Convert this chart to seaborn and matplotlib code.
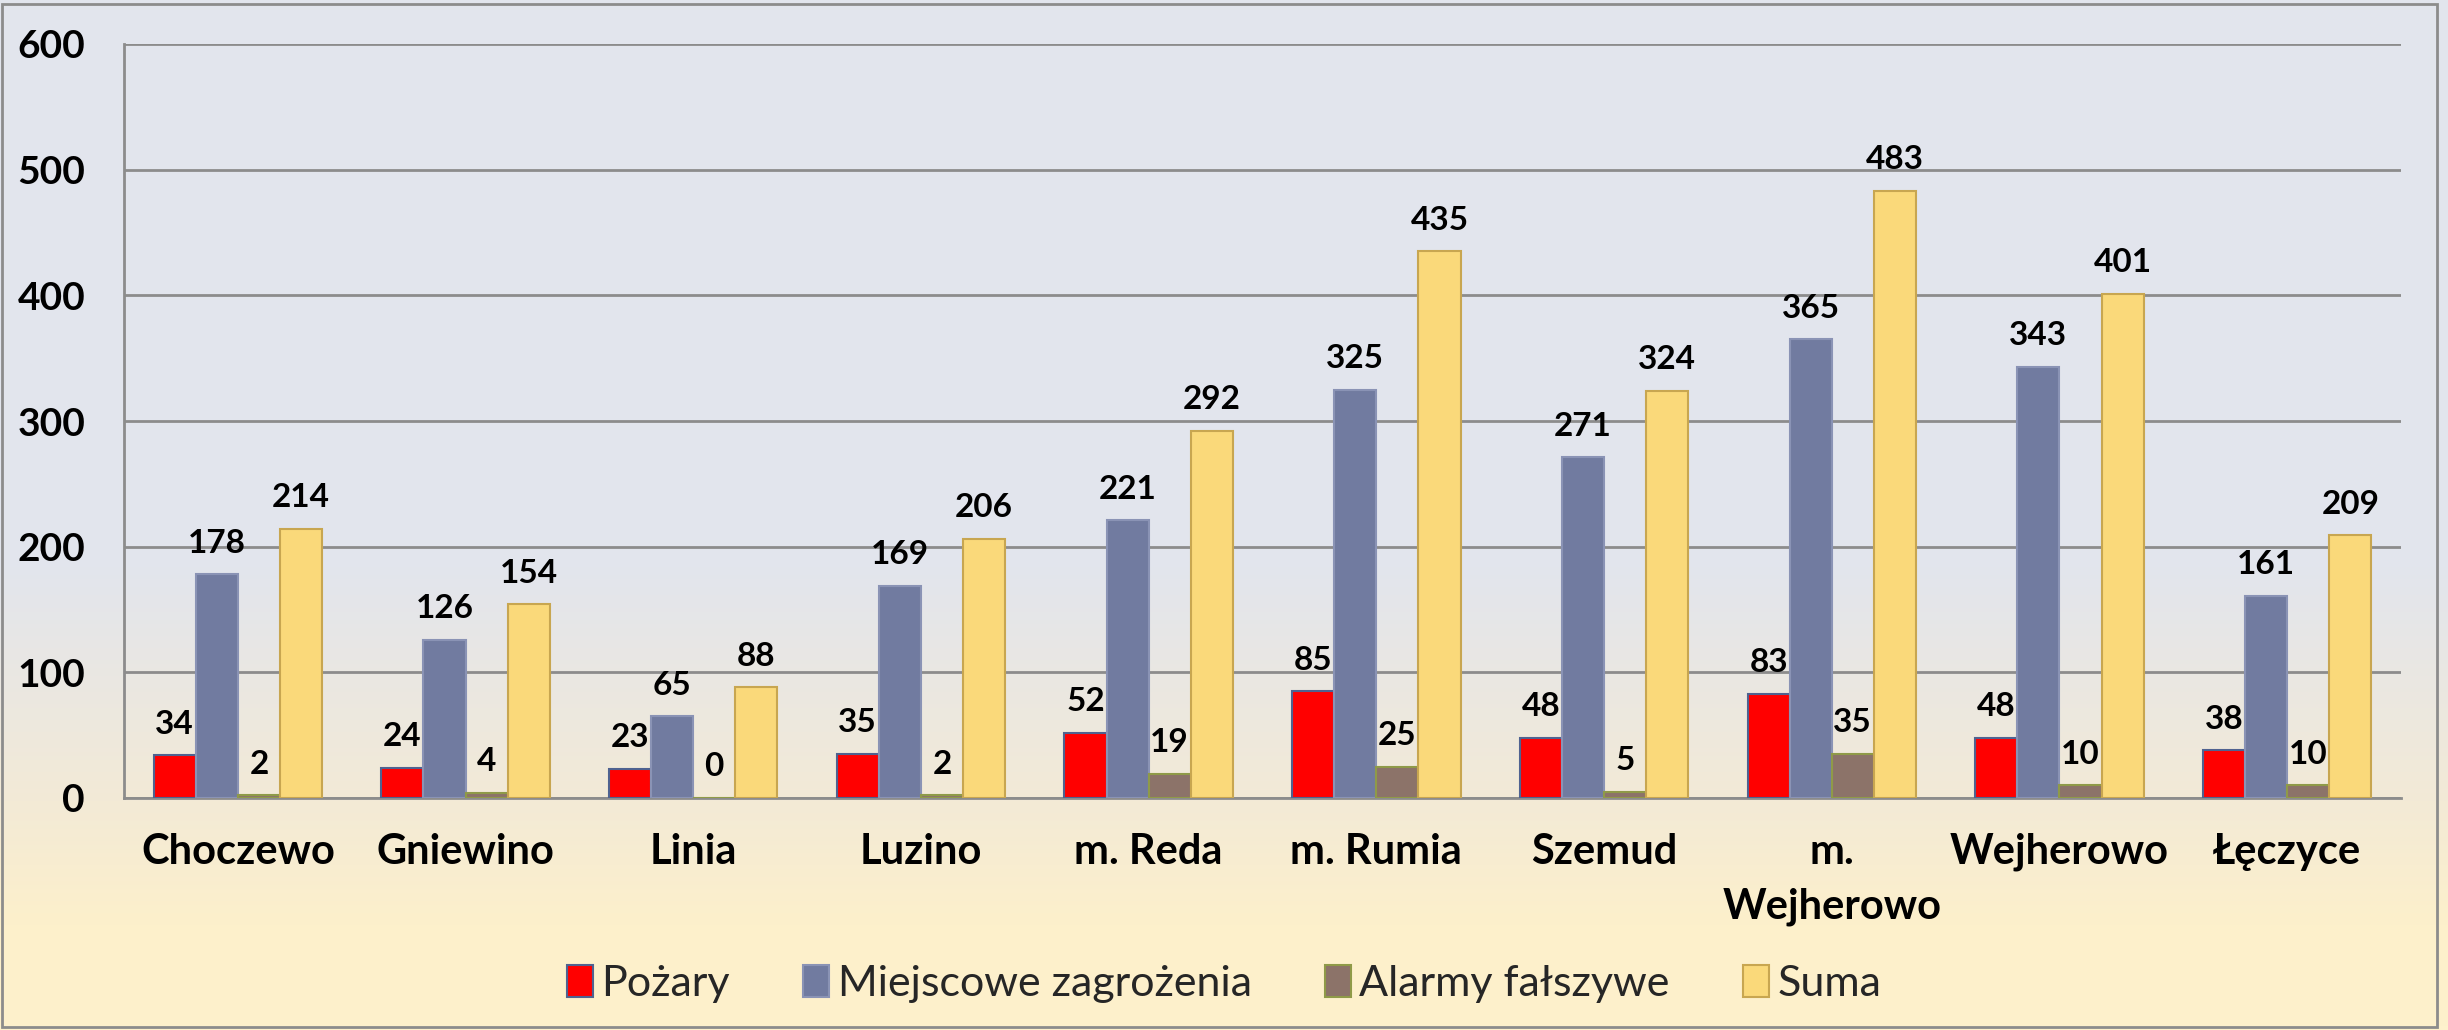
import numpy as np
import pandas as pd
import seaborn as sns
import matplotlib.pyplot as plt
from matplotlib.patches import Patch, Rectangle
from matplotlib.colors import LinearSegmentedColormap

gminy = ['Choczewo', 'Gniewino', 'Linia', 'Luzino', 'm. Reda', 'm. Rumia',
         'Szemud', 'm. Wejherowo', 'Wejherowo', 'Łęczyce']
etykiety = ['Choczewo', 'Gniewino', 'Linia', 'Luzino', 'm. Reda', 'm. Rumia',
            'Szemud', 'm.\nWejherowo', 'Wejherowo', 'Łęczyce']
serie = ['Pożary', 'Miejscowe zagrożenia', 'Alarmy fałszywe', 'Suma']
pozary = [34, 24, 23, 35, 52, 85, 48, 83, 48, 38]
miejscowe = [178, 126, 65, 169, 221, 325, 271, 365, 343, 161]
alarmy = [2, 4, 0, 2, 19, 25, 5, 35, 10, 10]
suma = [214, 154, 88, 206, 292, 435, 324, 483, 401, 209]
y_ticks = [0, 100, 200, 300, 400, 500, 600]

kolory = ['#FF0000', '#717BA0', '#8C7369', '#FAD97A']
krawedzie = ['#4F6290', '#8A93B5', '#8F9A48', '#C8A650']

data = pd.DataFrame({
    'gmina': gminy * 4,
    'seria': [s for s in serie for _ in gminy],
    'wartosc': pozary + miejscowe + alarmy + suma,
})

sns.set_theme(style='white')
plt.rcParams['font.family'] = ['Lato', 'DejaVu Sans']

fig = plt.figure(figsize=(24.48, 10.30), dpi=100)

# tlo z gradientem
bg = fig.add_axes([0, 0, 1, 1], zorder=-1)
cmap = LinearSegmentedColormap.from_list('tlo', [
    (0.0, '#E2E5ED'), (0.55, '#E2E5ED'), (0.78, '#F3EAD6'),
    (0.9, '#FDF0CB'), (1.0, '#FEF1CC')])
bg.imshow(np.linspace(0, 1, 256).reshape(-1, 1), cmap=cmap, aspect='auto',
          extent=[0, 1, 0, 1])
bg.axis('off')

ax = fig.add_axes([124 / 2448, 1 - 798 / 1030, (2401 - 124) / 2448, (798 - 44) / 1030])
ax.set_facecolor('none')

sns.barplot(data=data, x='gmina', y='wartosc', hue='seria', order=gminy,
            hue_order=serie, palette=kolory, width=0.74, gap=0,
            saturation=1, legend=False, ax=ax, zorder=3)

for cont, ec in zip(ax.containers, krawedzie):
    for bar in cont:
        bar.set_edgecolor(ec)
        bar.set_linewidth(1.5)
    ax.bar_label(cont, padding=12, fontsize=24, fontweight='bold', color='black')

ax.set_ylim(0, 600)
ax.set_yticks(y_ticks)
ax.set_xlabel('')
ax.set_ylabel('')
ax.set_xticks(range(len(gminy)))
ax.set_xticklabels(etykiety, linespacing=1.55)
ax.tick_params(axis='y', length=0, pad=28, labelsize=28, labelcolor='black')
ax.tick_params(axis='x', length=0, pad=25, labelsize=30, labelcolor='black')
for lab in ax.get_xticklabels() + ax.get_yticklabels():
    lab.set_fontweight('bold')

ax.grid(axis='y', color='#8C8C8C', linewidth=2, zorder=0)
ax.set_axisbelow(True)
for s in ['top', 'right']:
    ax.spines[s].set_visible(False)
for s in ['left', 'bottom']:
    ax.spines[s].set_color('#8C8C8C')
    ax.spines[s].set_linewidth(2)

uchwyty = [Patch(facecolor=c, edgecolor=e, linewidth=1.5, label=s)
           for c, e, s in zip(kolory, krawedzie, serie)]
fig.legend(handles=uchwyty, loc='center', bbox_to_anchor=(0.5, 1 - 984 / 1030),
           ncol=4, frameon=False, fontsize=31, handlelength=0.6,
           handleheight=0.75, handletextpad=0.2, columnspacing=1.7)

fig.patches.append(Rectangle((2 / 2448, 3 / 1030), 2435 / 2448, 1023 / 1030,
                             transform=fig.transFigure, fill=False,
                             edgecolor='#8C8C8C', linewidth=2))

fig.savefig('out.png', dpi=100)
